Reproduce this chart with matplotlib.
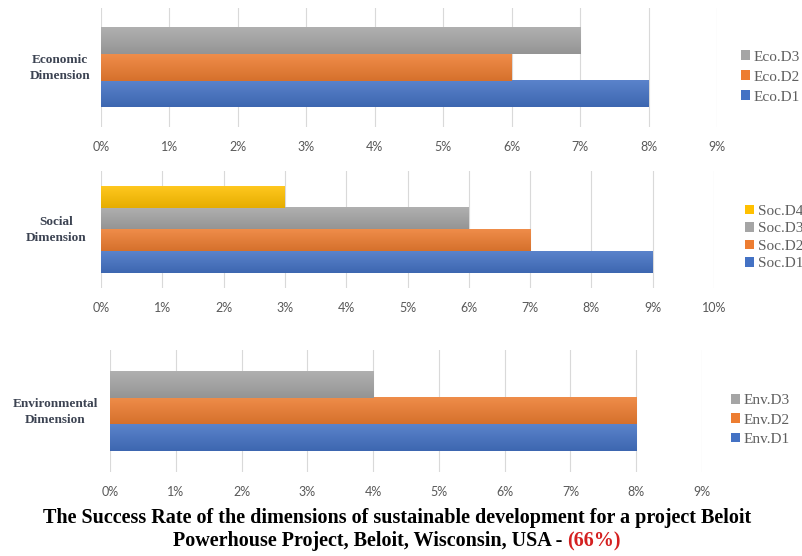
import matplotlib

matplotlib.use("Agg")
import matplotlib.pyplot as plt
import numpy as np
from matplotlib.colors import to_rgb
from matplotlib.patches import Patch
from matplotlib.ticker import MultipleLocator, PercentFormatter

# success rate (%) per indicator, listed D1 first
eco_labels = ["Eco.D1", "Eco.D2", "Eco.D3"]
eco_values = [8, 6, 7]
soc_labels = ["Soc.D1", "Soc.D2", "Soc.D3", "Soc.D4"]
soc_values = [9, 7, 6, 3]
env_labels = ["Env.D1", "Env.D2", "Env.D3"]
env_values = [8, 8, 4]

title_line1 = "The Success Rate of the dimensions of sustainable development for a project Beloit"
title_line2 = "Powerhouse Project, Beloit, Wisconsin, USA - "
total_rate = "(66%)"

COLORS = ["#4472C4", "#ED7D31", "#A5A5A5", "#FFC000"]
SERIF = ["Liberation Serif", "DejaVu Serif"]
TICK_FONT = ["Lato", "DejaVu Sans"]


def _mix(c, other, t):
    c = np.array(to_rgb(c))
    return c * (1 - t) + np.array(other) * t


def _gradient_bar(ax, bar, color):
    # Excel-style fill: lighter at the top edge, darker at the bottom
    x0, y0 = bar.get_xy()
    w, h = bar.get_width(), bar.get_height()
    top = _mix(color, (1, 1, 1), 0.12)
    bot = _mix(color, (0, 0, 0), 0.10)
    t = np.linspace(0, 1, 64)[:, None, None]
    img = bot * (1 - t) + top * t
    ax.imshow(img, extent=[x0, x0 + w, y0, y0 + h], origin="lower",
              aspect="auto", interpolation="bilinear", zorder=3)


def panel(fig, rect, name, labels, values, xmax, bar_h, name_xy, leg_xy, leg_space):
    ax = fig.add_axes(rect)
    n = len(values)
    ys = [(i - (n - 1) / 2) * bar_h for i in range(n)]
    for y, v, col in zip(ys, values, COLORS):
        bars = ax.barh(y, v, height=bar_h, color=col, zorder=2)
        _gradient_bar(ax, bars[0], col)

    ax.set_xlim(0, xmax)
    ax.set_ylim(-0.5, 0.5)
    ax.xaxis.set_major_locator(MultipleLocator(1))
    ax.xaxis.set_major_formatter(PercentFormatter(100, decimals=0))
    ax.set_yticks([])
    for s in ax.spines.values():
        s.set_visible(False)
    ax.grid(axis="x", color="#d9d9d9", lw=0.8, zorder=0)
    ax.set_axisbelow(True)
    ax.tick_params(axis="x", length=0, pad=10, labelsize=9, labelcolor="#595959")
    for lab in ax.get_xticklabels():
        lab.set_family(TICK_FONT)

    fig.text(name_xy[0], name_xy[1], name, ha="center", va="center",
             fontsize=9.5, fontweight="bold", color="#3c4352", family=SERIF,
             linespacing=1.35)

    handles = [Patch(facecolor=c, label=l) for c, l in zip(COLORS, labels)][::-1]
    leg = ax.legend(handles=handles, loc="center left", bbox_to_anchor=leg_xy,
                    bbox_transform=fig.transFigure, frameon=False,
                    handlelength=0.6, handleheight=0.6, handletextpad=0.25,
                    labelspacing=leg_space, borderpad=0, borderaxespad=0,
                    prop={"family": SERIF, "size": 11})
    for t in leg.get_texts():
        t.set_color("#5f5f5f")
    return ax


fig = plt.figure(figsize=(8.02, 5.56), dpi=100)

panel(fig, [101 / 802, 1 - 127 / 556, 616 / 802, 119 / 556],
      "Economic\nDimension", eco_labels, eco_values, 9, 0.219,
      (60 / 802, 1 - 68 / 556), (741 / 802, 1 - 77 / 556), 0.45)
panel(fig, [101 / 802, 1 - 288 / 556, 613 / 802, 117 / 556],
      "Social\nDimension", soc_labels, soc_values, 10, 0.184,
      (56 / 802, 1 - 230 / 556), (745 / 802, 1 - 237.5 / 556), 0.28)
panel(fig, [110 / 802, 1 - 472 / 556, 592 / 802, 122 / 556],
      "Environmental\nDimension", env_labels, env_values, 9, 0.216,
      (55 / 802, 1 - 412 / 556), (731 / 802, 1 - 420 / 556), 0.4)

# two-line caption, the overall rate in red
tkw = dict(fontsize=14.5, fontweight="bold", family=SERIF, va="center")
fig.text(0.495, 1 - 518 / 556, title_line1, ha="center", color="black", **tkw)
black = fig.text(0, 1 - 541 / 556, title_line2, ha="left", color="black", **tkw)
red = fig.text(0, 1 - 541 / 556, total_rate, ha="left", color="#d42020", **tkw)
fig.canvas.draw()
r = fig.canvas.get_renderer()
wb = black.get_window_extent(r).width / fig.bbox.width
wr = red.get_window_extent(r).width / fig.bbox.width
x0 = 0.495 - (wb + wr) / 2
black.set_x(x0)
red.set_x(x0 + wb)

fig.savefig("out.png", dpi=100)
